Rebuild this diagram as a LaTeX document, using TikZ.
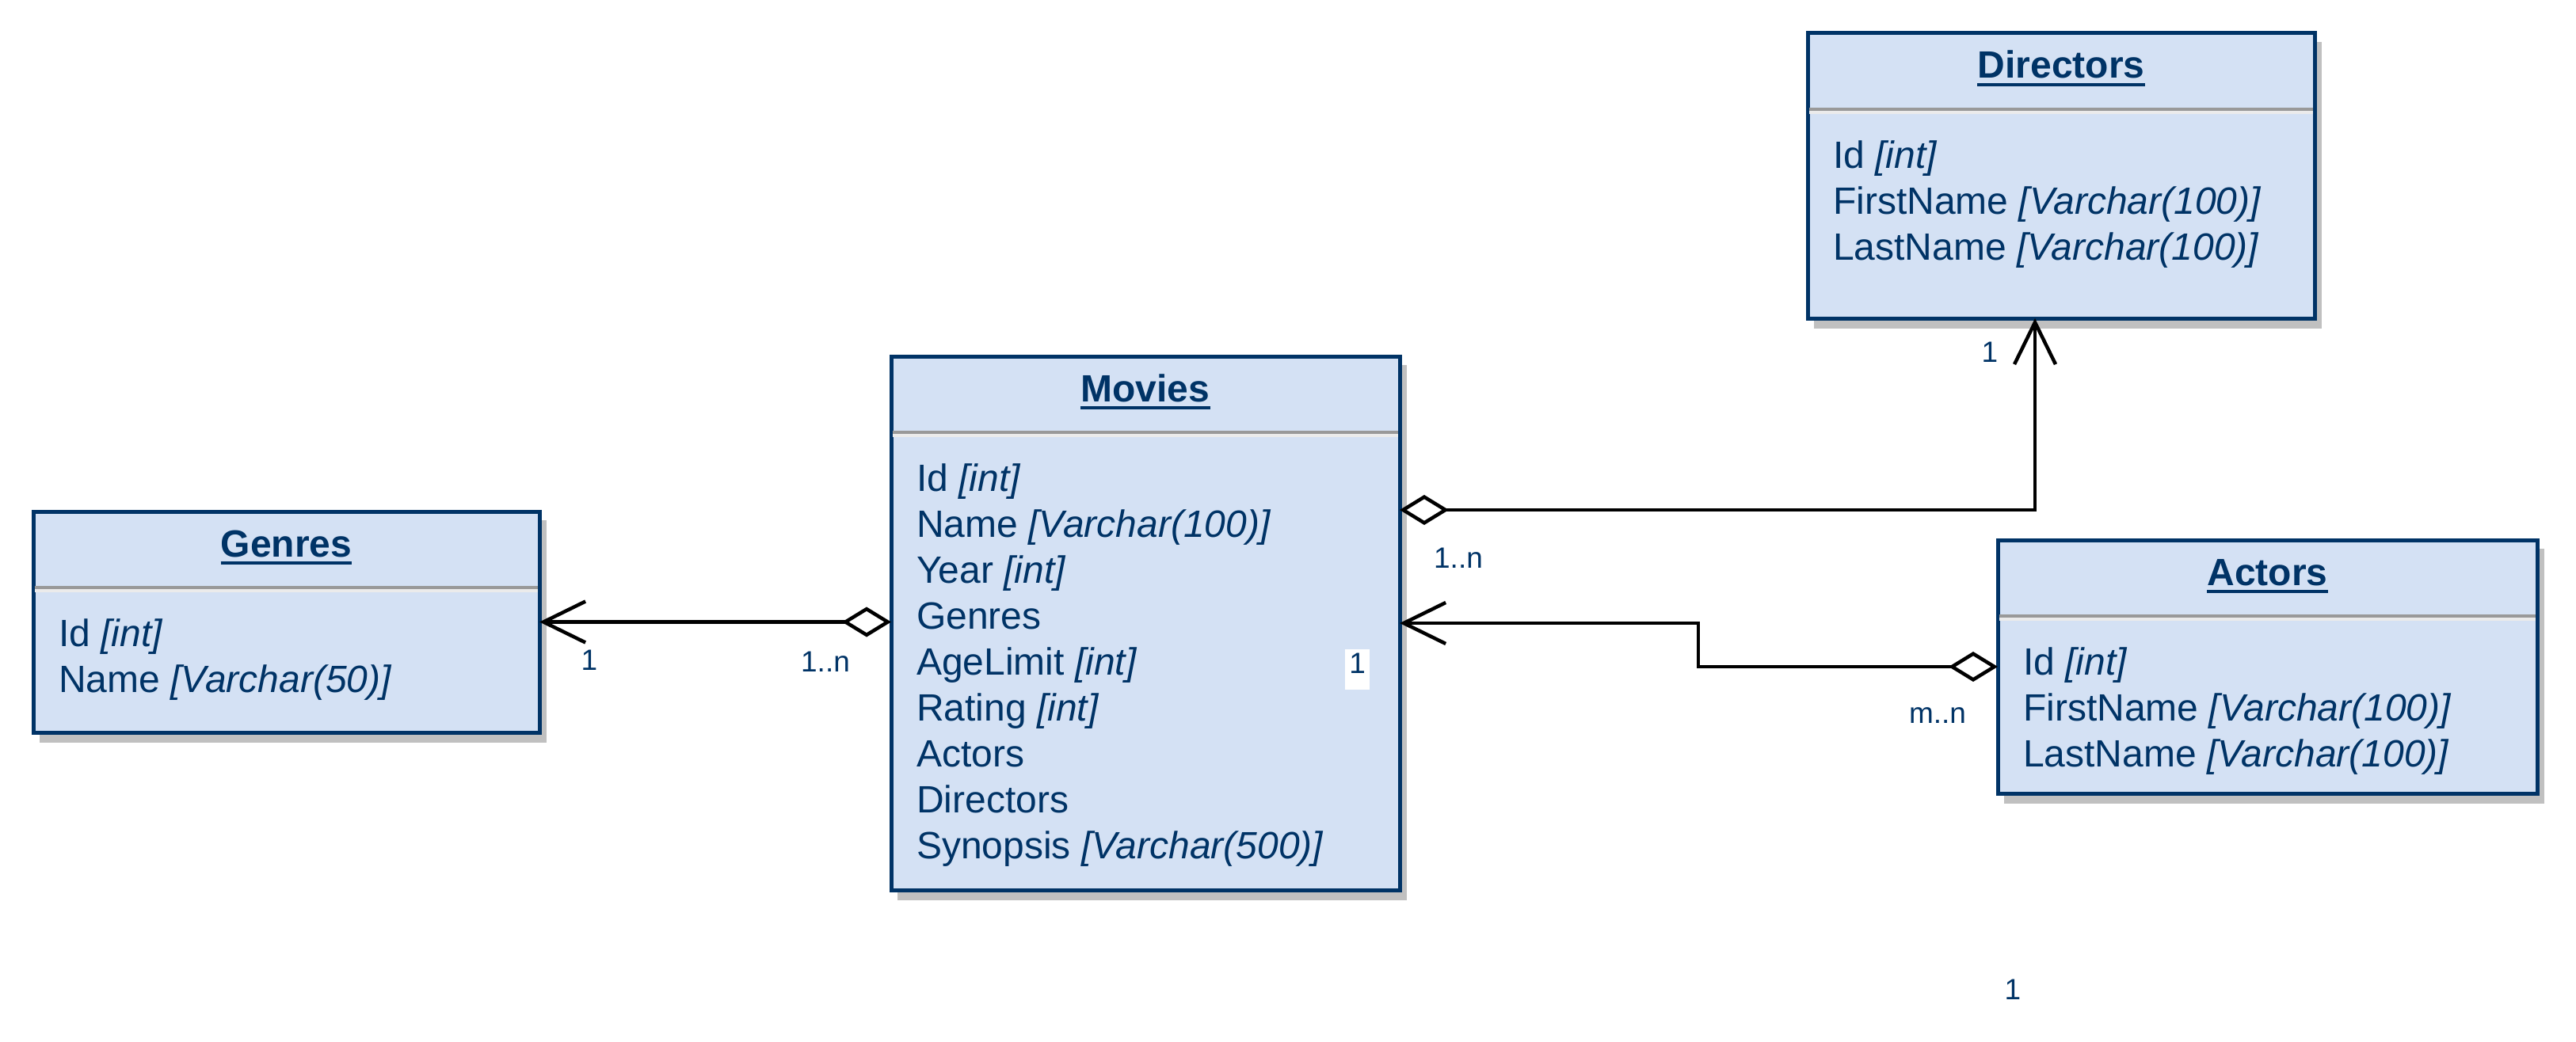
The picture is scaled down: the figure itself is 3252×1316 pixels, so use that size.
\documentclass[tikz,border=0pt]{standalone}
\usepackage{fontspec}
\setmainfont{Liberation Sans}
\usetikzlibrary{arrows.meta}
\definecolor{boxfill}{HTML}{D4E1F4}
\definecolor{navy}{HTML}{003366}
\definecolor{shadowgray}{HTML}{C0C0C0}
\definecolor{sepgray}{HTML}{999999}
\definecolor{seplight}{HTML}{EBEBEB}
\newcommand{\umlclass}[7]{%
  \fill[shadowgray] (#2+8,#3+11) rectangle (#4+9,#5+13);
  \node[classbox, anchor=north west, minimum width=#4-#2, minimum height=#5-#3] (#1) at (#2,#3) {};
  \draw[sepgray, line width=4pt] (#2+2,#3+96) -- (#4-2,#3+96);
  \draw[seplight, line width=4pt] (#2+2,#3+100) -- (#4-2,#3+100);
  \node[titletext] (#1-title) at ({(#2+#4)/2},#3+57) {#6};
  \draw[navy, line width=4pt] ([yshift=-8pt]#1-title.base west) -- ([yshift=-8pt]#1-title.base east);
  \foreach \a [count=\i] in {#7} {\node[attr] (#1-a\i) at (#2+32,{#3+170+58*(\i-1)}) {\a};}
}
\begin{document}
\begin{tikzpicture}[x=1pt,y=-1pt,
  classbox/.style={draw=navy, line width=5pt, fill=boxfill, inner sep=0pt, outer sep=0pt},
  titletext/.style={font=\fontsize{48}{58}\selectfont\bfseries, text=navy, inner sep=0pt, anchor=base},
  attr/.style={font=\fontsize{48}{58}\selectfont, text=navy, inner sep=0pt, anchor=base west},
  lbl/.style={font=\fontsize{37}{44}\selectfont, text=navy, inner sep=0pt},
  conn/.style={draw=black, line width=4.5pt},
  barb/.tip={Straight Barb[length=53pt,width=52pt]},
  agg/.tip={Diamond[fill=white,length=62pt,width=38pt]}
]
\fill[white] (0,0) rectangle (3252,1316);
\useasboundingbox (0,0) rectangle (3252,1316);

\umlclass{genres}{42}{646}{681}{925}{Genres}{{Id \textit{[int]}},{Name \textit{[Varchar(50)]}}}
\umlclass{movies}{1125}{450}{1767}{1124}{Movies}{{Id \textit{[int]}},{Name \textit{[Varchar(100)]}},{Year \textit{[int]}},{Genres},{AgeLimit \textit{[int]}},{Rating \textit{[int]}},{Actors},{Directors},{Synopsis \textit{[Varchar(500)]}}}
\umlclass{directors}{2282}{42}{2922}{402}{Directors}{{Id \textit{[int]}},{FirstName \textit{[Varchar(100)]}},{LastName \textit{[Varchar(100)]}}}
\umlclass{actors}{2522}{682}{3203}{1002}{Actors}{{Id \textit{[int]}},{FirstName \textit{[Varchar(100)]}},{LastName \textit{[Varchar(100)]}}}

% connectors
\draw[conn, barb-agg] (genres.east) -- (genres.east -| movies.west);
\draw[conn, agg-barb] ([yshift=143pt]movies.east) -| ([xshift=-33pt]directors.south);
\coordinate (bend) at (2144,815);
\draw[conn, barb-agg] (movies.east) -| (bend) |- (actors.west);

% multiplicity labels
\node[lbl] (lg1) at (744,834) {1};
\node[lbl] (lg2) at (1042,836) {1..n};
\node[lbl] (ld1) at (2512,445) {1};
\node[lbl] (ld2) at (1841,705) {1..n};
\node[lbl] (la2) at (2446,904) {m..n};
\node[lbl, fill=white, anchor=north west, minimum width=31pt, text height=30pt, text depth=21pt] (la1) at (1698,820) {1};
\node[lbl] (lx1) at (2541,1250) {1};
\end{tikzpicture}
\end{document}
